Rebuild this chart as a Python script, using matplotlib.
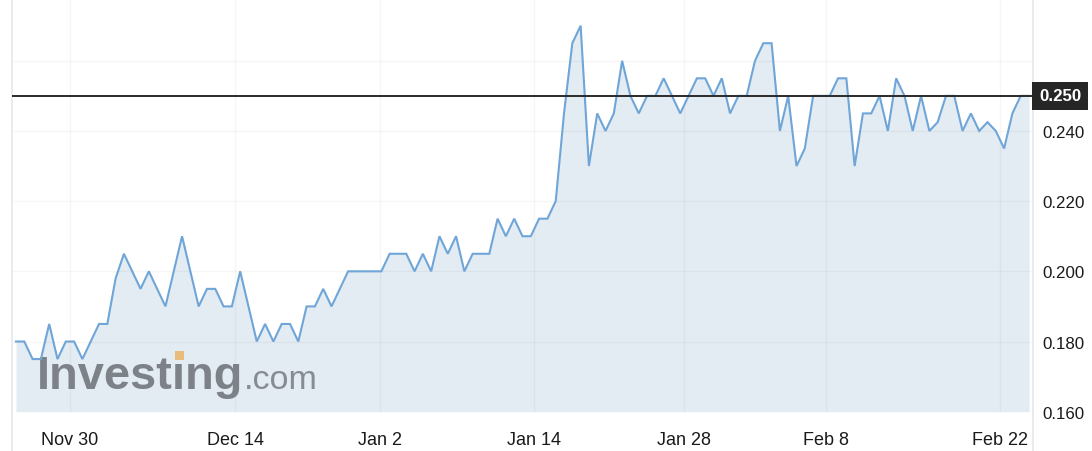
import matplotlib
matplotlib.use("Agg")
import matplotlib.pyplot as plt
from matplotlib.patches import Rectangle
from matplotlib.lines import Line2D

plt.rcParams['font.family'] = ['Liberation Sans', 'DejaVu Sans']

# ---- data ----
prices = [
    0.180, 0.180, 0.175, 0.175, 0.185, 0.175, 0.180, 0.180, 0.175, 0.180,
    0.185, 0.185, 0.198, 0.205, 0.200, 0.195, 0.200, 0.195, 0.190, 0.200,
    0.210, 0.200, 0.190, 0.195, 0.195, 0.190, 0.190, 0.200, 0.190, 0.180,
    0.185, 0.180, 0.185, 0.185, 0.180, 0.190, 0.190, 0.195, 0.190, 0.195,
    0.200, 0.200, 0.200, 0.200, 0.200, 0.205, 0.205, 0.205, 0.200, 0.205,
    0.200, 0.210, 0.205, 0.210, 0.200, 0.205, 0.205, 0.205, 0.215, 0.210,
    0.215, 0.210, 0.210, 0.215, 0.215, 0.220, 0.245, 0.265, 0.270, 0.230,
    0.245, 0.240, 0.245, 0.260, 0.250, 0.245, 0.250, 0.250, 0.255, 0.250,
    0.245, 0.250, 0.255, 0.255, 0.250, 0.255, 0.245, 0.250, 0.250, 0.260,
    0.265, 0.265, 0.240, 0.250, 0.230, 0.235, 0.250, 0.250, 0.250, 0.255,
    0.255, 0.230, 0.245, 0.245, 0.250, 0.240, 0.255, 0.250, 0.240, 0.250,
    0.240, 0.2425, 0.250, 0.250, 0.240, 0.245, 0.240, 0.2425, 0.240, 0.235,
    0.245, 0.250, 0.250,
]
x_labels = ["Nov 30", "Dec 14", "Jan 2", "Jan 14", "Jan 28", "Feb 8", "Feb 22"]
x_label_idx = [6.5, 26.4, 43.8, 62.4, 80.5, 97.6, 118.5]
y_ticks = [0.160, 0.180, 0.200, 0.220, 0.240]
y_grid = [0.180, 0.200, 0.220, 0.240, 0.260]
last_price = 0.250

# ---- layout ----
W, H = 1092, 452
AX_L, AX_R, AX_B = 12, 1033, 412.7
fig = plt.figure(figsize=(W / 100, H / 100), dpi=100)
ax = fig.add_axes([AX_L / W, (H - AX_B) / H, (AX_R - AX_L) / W, AX_B / H])

xs = list(range(len(prices)))
ax.set_xlim(-0.48, len(prices) - 1 + 0.48)
ax.set_ylim(0.160, 0.2776)

line_c = '#6fa5d7'
fill_c = '#e3ecf3'
ax.fill_between(xs, prices, 0.160, color=fill_c, linewidth=0, zorder=1)
ax.plot(xs, prices, color=line_c, lw=1.5, zorder=3, solid_joinstyle='miter')

for p in x_label_idx:
    ax.axvline(p, color=(0, 0, 0, 0.035), lw=1, zorder=1.5)
for g in y_grid:
    ax.axhline(g, color=(0, 0, 0, 0.035), lw=1, zorder=1.5)

ax.axhline(last_price, color='#2a2a2a', lw=1.4, zorder=4)

ax.set_xticks(x_label_idx, x_labels)
ax.yaxis.tick_right()
ax.set_yticks(y_ticks, [f"{v:.3f}" for v in y_ticks])
ax.tick_params(axis='both', length=0, labelsize=13, colors='#1a1a1a')
ax.tick_params(axis='x', pad=14)
ax.tick_params(axis='y', pad=7, labelsize=12.2)

for s in ['top', 'bottom']:
    ax.spines[s].set_visible(False)
for s in ['left', 'right']:
    ax.spines[s].set_color('#e4e8ee')
    ax.spines[s].set_linewidth(1.2)

# extend frame lines to the bottom of the figure
for px in (AX_L, AX_R):
    fig.add_artist(Line2D([px / W, px / W], [0, (H - AX_B) / H],
                          transform=fig.transFigure, color='#e4e8ee', lw=1.2))

# current price box
ax.text(1 + 6 / (AX_R - AX_L), last_price, f"{last_price:.3f}",
        transform=ax.get_yaxis_transform(), ha='left', va='center',
        color='white', fontsize=12.2, fontweight='bold', zorder=6, clip_on=False,
        bbox=dict(boxstyle='square,pad=0.4', fc='#262626', ec='none'))

# watermark
def axc(px, py):
    return ((px - AX_L) / (AX_R - AX_L), (AX_B - py) / AX_B)

wm_size = 33.8
wx, wy = axc(37, 389)
ax.text(wx, wy, "Invest\u0131ng", transform=ax.transAxes, fontsize=wm_size,
        fontweight='bold', color='#7d8289', va='baseline', ha='left', zorder=2)
cx, cy = axc(244, 389)
ax.text(cx, cy, ".com", transform=ax.transAxes, fontsize=24.5,
        color='#878c92', va='baseline', ha='left', zorder=2)

# orange dot above the "i": measure where the i falls
fig.canvas.draw()
r = fig.canvas.get_renderer()
tmp = fig.text(0, 0, "Invest", fontsize=wm_size, fontweight='bold')
w_pre = tmp.get_window_extent(renderer=r).width
tmp2 = fig.text(0, 0, "\u0131", fontsize=wm_size, fontweight='bold')
w_i = tmp2.get_window_extent(renderer=r).width
tmp.remove()
tmp2.remove()
i_center_px = 37 + w_pre + w_i / 2
sq = 9.5
rx, ry = axc(i_center_px - sq / 2, 361)
ax.add_patch(Rectangle((rx, ry), sq / (AX_R - AX_L), sq / AX_B,
                       transform=ax.transAxes, color='#e8bd7c', lw=0, zorder=2.1))

fig.savefig("out.png", dpi=100)
